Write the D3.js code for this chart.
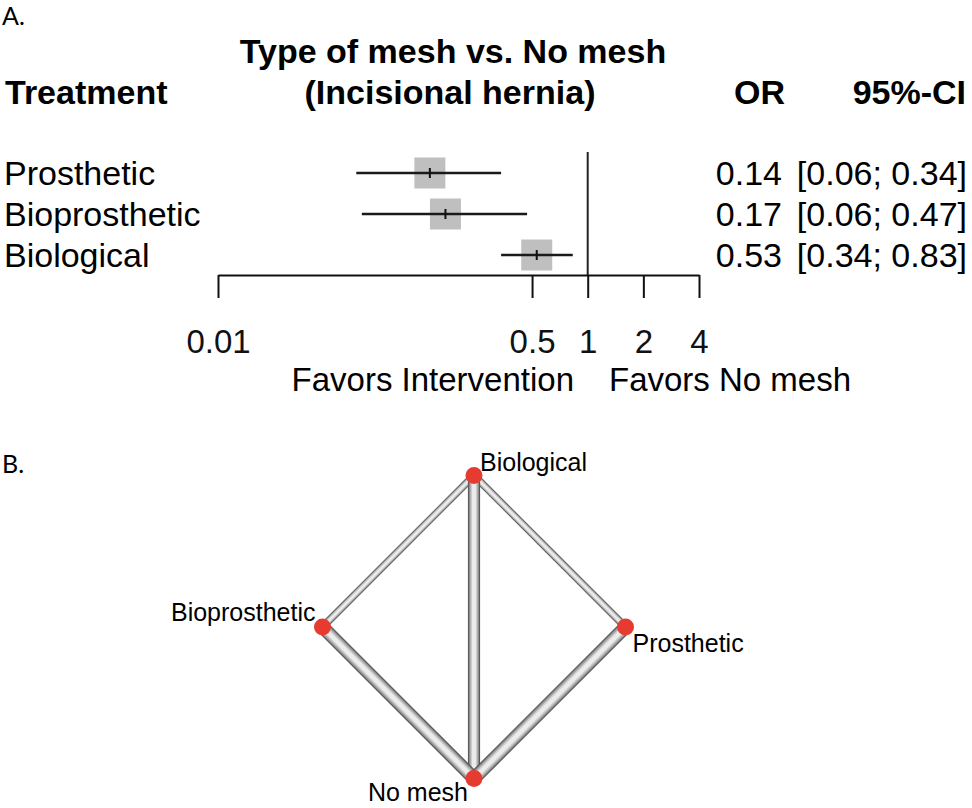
<!DOCTYPE html>
<html>
<head>
<meta charset="utf-8">
<script src="https://cdn.jsdelivr.net/npm/d3@7"></script>
<style>
  body { margin: 0; background: #fff; }
  svg { display: block; }
</style>
</head>
<body>
<div class="chart"></div>
<script>
// forest plot data
const treatments = ["Prosthetic", "Bioprosthetic", "Biological"];
const orValues = [0.14, 0.17, 0.53];
const ciLower = [0.056, 0.06, 0.34];
const ciUpper = [0.34, 0.47, 0.83];
const orLabels = ["0.14", "0.17", "0.53"];
const ciLabels = ["[0.06; 0.34]", "[0.06; 0.47]", "[0.34; 0.83]"];
const tickValues = [0.01, 0.5, 1, 2, 4];

// network data
const nodes = ["Biological", "Prosthetic", "No mesh", "Bioprosthetic"]; // clockwise from top
const edgeFrom = ["Biological", "Biological", "Biological", "Bioprosthetic", "Prosthetic"];
const edgeTo = ["Bioprosthetic", "Prosthetic", "No mesh", "No mesh", "No mesh"];
const edgeWeight = [1.1, 1.1, 1.8, 2, 2];

const W = 972, H = 808;
const font = "'Liberation Sans', Arial, sans-serif";

const svg = d3.select("div.chart")
    .append("svg")
    .attr("width", W)
    .attr("height", H)
    .style("font-family", font);

// panel letters
svg.append("text").attr("x", 2).attr("y", 25).text("A.")
    .attr("font-family", "Lato, 'Open Sans', sans-serif").attr("font-size", "25px");
svg.append("text").attr("x", 2).attr("y", 473).text("B.")
    .attr("font-family", "Lato, 'Open Sans', sans-serif").attr("font-size", "25px");

// ---- forest plot ----
const x = d3.scaleLog().domain([0.01, 4]).range([218, 699]);
const y = d3.scalePoint().domain(treatments).range([173, 255]);
const axisY = 275;

// headers
const hdr = svg.append("g").attr("font-weight", "bold").attr("font-size", "34px");
hdr.append("text").attr("x", 453).attr("y", 63).attr("text-anchor", "middle").text("Type of mesh vs. No mesh");
hdr.append("text").attr("x", 450).attr("y", 104).attr("text-anchor", "middle").text("(Incisional hernia)");
hdr.append("text").attr("x", 5).attr("y", 104).text("Treatment");
hdr.append("text").attr("x", 785).attr("y", 104).attr("text-anchor", "end").text("OR");
hdr.append("text").attr("x", 966).attr("y", 104).attr("text-anchor", "end").text("95%-CI");

// reference line at OR = 1
svg.append("line")
    .attr("x1", x(1)).attr("x2", x(1))
    .attr("y1", 152).attr("y2", axisY)
    .attr("stroke", "#222").attr("stroke-width", 2);

const row = svg.selectAll("g.row")
    .data(treatments)
    .enter()
    .append("g")
    .attr("class", "row");

// boxes
const box = 31;
row.append("rect")
    .attr("x", (d, i) => x(orValues[i]) - box / 2)
    .attr("y", d => y(d) - box / 2)
    .attr("width", box)
    .attr("height", box)
    .attr("fill", "#bfbfbf");

// confidence intervals
row.append("line")
    .attr("x1", (d, i) => x(ciLower[i]))
    .attr("x2", (d, i) => x(ciUpper[i]))
    .attr("y1", d => y(d)).attr("y2", d => y(d))
    .attr("stroke", "#1a1a1a").attr("stroke-width", 2.5);

// point estimate tick
row.append("line")
    .attr("x1", (d, i) => x(orValues[i]))
    .attr("x2", (d, i) => x(orValues[i]))
    .attr("y1", d => y(d) - 5).attr("y2", d => y(d) + 5)
    .attr("stroke", "#111").attr("stroke-width", 2);

// row texts
row.append("text")
    .attr("x", 4).attr("y", d => y(d) + 12)
    .attr("font-size", "34px")
    .text(d => d);
row.append("text")
    .attr("x", 782).attr("y", d => y(d) + 12)
    .attr("text-anchor", "end")
    .attr("font-size", "34px")
    .text((d, i) => orLabels[i]);
row.append("text")
    .attr("x", 967).attr("y", d => y(d) + 12)
    .attr("text-anchor", "end")
    .attr("font-size", "34px")
    .text((d, i) => ciLabels[i]);

// axis
const axis = svg.append("g")
    .attr("transform", `translate(0,${axisY})`)
    .call(d3.axisBottom(x)
        .tickValues(tickValues)
        .tickFormat(d => String(d))
        .tickSize(23)
        .tickSizeOuter(0)
        .tickPadding(32));
axis.select(".domain").attr("stroke", "#111").attr("stroke-width", 2);
axis.selectAll(".tick line").attr("stroke", "#111").attr("stroke-width", 2);
axis.selectAll(".tick text")
    .attr("font-family", font)
    .attr("font-size", "33px")
    .attr("fill", "#111");

svg.append("text").attr("x", 574).attr("y", 391)
    .attr("text-anchor", "end").attr("font-size", "33px")
    .text("Favors Intervention");
svg.append("text").attr("x", 609).attr("y", 391)
    .attr("font-size", "33px")
    .text("Favors No mesh");

// ---- network graph ----
const cx = 474, cy = 627;
const r = d3.scaleLinear().domain([0, 1]).range([0, 151.5]);
const pos = {};
nodes.forEach((n, i) => {
    const a = -Math.PI / 2 + i * Math.PI / 2;
    pos[n] = [cx + r(Math.cos(a)), cy + r(Math.sin(a))];
});

const wScale = d3.scaleLinear().domain([0, 2]).range([0, 13.5]);
// cylinder look: stacked strokes, dark outside to light inside
const layers = [
    { f: 1.0, c: "#4a4a4a" },
    { f: 0.88, c: "#7e7e7e" },
    { f: 0.72, c: "#a6a6a6" },
    { f: 0.54, c: "#cccccc" },
    { f: 0.32, c: "#ececec" }
];
const edges = svg.append("g");
edgeFrom.forEach((f, i) => {
    const a = pos[f], b = pos[edgeTo[i]];
    layers.forEach(l => {
        edges.append("line")
            .attr("x1", a[0]).attr("y1", a[1])
            .attr("x2", b[0]).attr("y2", b[1])
            .attr("stroke", l.c)
            .attr("stroke-width", wScale(edgeWeight[i]) * l.f);
    });
});

svg.selectAll("circle.node")
    .data(nodes)
    .enter()
    .append("circle")
    .attr("class", "node")
    .attr("cx", d => pos[d][0])
    .attr("cy", d => pos[d][1])
    .attr("r", 8.5)
    .attr("fill", "#e63b31");

// label placement around the diamond
const lab = [
    { dx: 6, dy: -5, anchor: "start" },
    { dx: 7, dy: 25, anchor: "start" },
    { dx: -6, dy: 22, anchor: "end" },
    { dx: -7, dy: -6, anchor: "end" }
];
svg.selectAll("text.nlab")
    .data(nodes)
    .enter()
    .append("text")
    .attr("class", "nlab")
    .attr("x", (d, i) => pos[d][0] + lab[i].dx)
    .attr("y", (d, i) => pos[d][1] + lab[i].dy)
    .attr("text-anchor", (d, i) => lab[i].anchor)
    .attr("font-size", "25px")
    .text(d => d);
</script>
</body>
</html>
